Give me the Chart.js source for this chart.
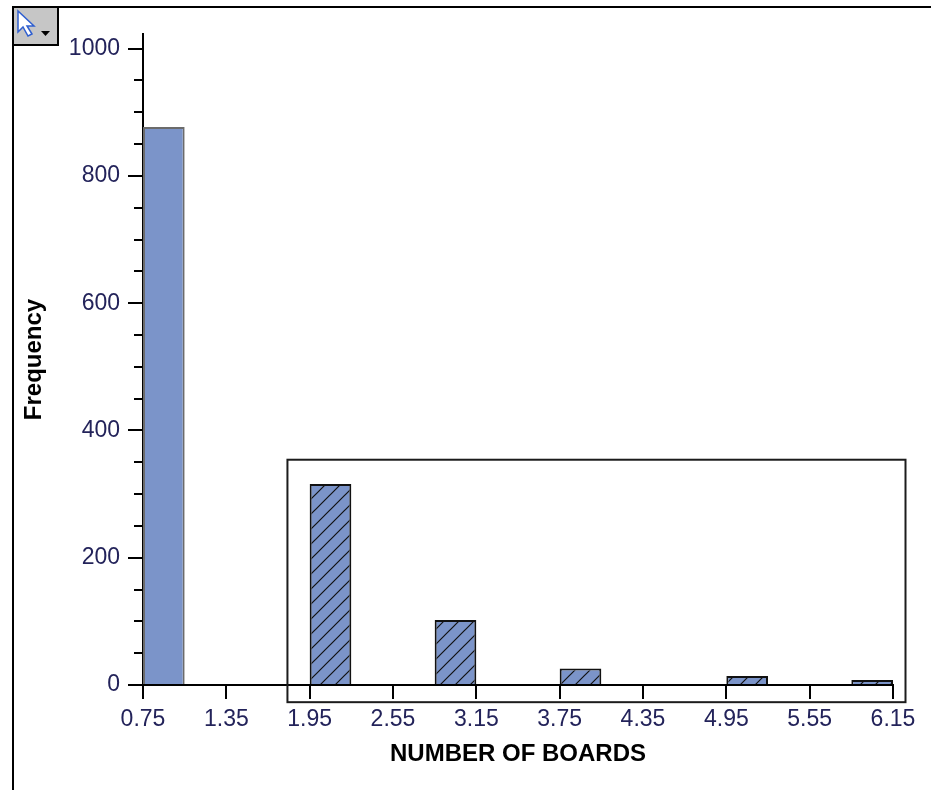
<!DOCTYPE html>
<html>
<head>
<meta charset="utf-8">
<title>Number of Boards</title>
<script src="https://cdn.jsdelivr.net/npm/chart.js@4.4.1/dist/chart.umd.min.js"></script>
<style>
  html, body { margin: 0; padding: 0; background: #fff; }
  #wrap { position: relative; width: 931px; height: 790px; }
</style>
</head>
<body>
<div id="wrap"><canvas id="histChart" width="931" height="790"></canvas></div>
<script>
'use strict';

// histogram bins (centre of each 0.3 wide bar) and their counts
const binCenters = [0.9, 2.1, 3.0, 3.9, 5.1, 6.0];
const frequencies = [877, 316, 102, 26, 14, 8];

// axis ticks
const xTickValues = [0.75, 1.35, 1.95, 2.55, 3.15, 3.75, 4.35, 4.95, 5.55, 6.15];
const yTickValues = [0, 200, 400, 600, 800, 1000];
const yMinorStep = 50;

const BAR_FILL = '#7b94c9';
const TICK_TEXT = '#23235a';
const FONT = '"Liberation Sans", Arial, sans-serif';

// highlight frame around the hatched bins, in data units
const insetBox = { xMin: 1.79, xMax: 6.24, yMin: -27, yMax: 354 };

function makeHatch() {
    const c = document.createElement('canvas');
    c.width = 15; c.height = 15;
    const g = c.getContext('2d');
    g.fillStyle = BAR_FILL;
    g.fillRect(0, 0, 15, 15);
    g.strokeStyle = '#111';
    g.lineWidth = 1.2;
    g.beginPath();
    g.moveTo(-1, 16); g.lineTo(16, -1);
    g.moveTo(-1, 1); g.lineTo(1, -1);
    g.moveTo(14, 16); g.lineTo(16, 14);
    g.stroke();
    return g.createPattern(c, 'repeat');
}

const hatch = makeHatch();

// minor ticks on the frequency axis, the inset frame and the window chrome
const decorations = {
    id: 'decorations',
    afterDraw(chart) {
        const ctx = chart.ctx;
        const x = chart.scales.x;
        const y = chart.scales.y;
        const area = chart.chartArea;

        ctx.save();
        ctx.strokeStyle = '#000';
        ctx.lineWidth = 2;
        ctx.beginPath();
        for (let v = yMinorStep; v < yTickValues[yTickValues.length - 1]; v += yMinorStep) {
            if (yTickValues.includes(v)) continue;
            const py = Math.round(y.getPixelForValue(v));
            ctx.moveTo(area.left - 9, py);
            ctx.lineTo(area.left, py);
        }
        ctx.stroke();

        // inset frame
        const l = x.getPixelForValue(insetBox.xMin);
        const r = x.getPixelForValue(insetBox.xMax);
        const t = y.getPixelForValue(insetBox.yMax);
        const b = y.getPixelForValue(insetBox.yMin);
        ctx.strokeStyle = '#1c1c1c';
        ctx.lineWidth = 2;
        ctx.strokeRect(l, t, r - l, b - t);

        // outer window edge
        ctx.strokeStyle = '#000';
        ctx.beginPath();
        ctx.moveTo(13, 790);
        ctx.lineTo(13, 7);
        ctx.lineTo(931, 7);
        ctx.stroke();

        // selection tool button
        ctx.fillStyle = '#c6c6c6';
        ctx.fillRect(13, 7, 45, 38);
        ctx.strokeRect(13, 7, 45, 38);
        ctx.beginPath();
        ctx.moveTo(18, 11);
        ctx.lineTo(18, 32);
        ctx.lineTo(23, 27);
        ctx.lineTo(28, 36);
        ctx.lineTo(32, 34);
        ctx.lineTo(27, 26);
        ctx.lineTo(34, 26);
        ctx.closePath();
        ctx.fillStyle = '#fff';
        ctx.fill();
        ctx.strokeStyle = '#2f5fd0';
        ctx.lineWidth = 1.5;
        ctx.stroke();
        ctx.beginPath();
        ctx.moveTo(41, 31);
        ctx.lineTo(50, 31);
        ctx.lineTo(45.5, 36);
        ctx.closePath();
        ctx.fillStyle = '#000';
        ctx.fill();
        ctx.restore();
    }
};

new Chart(document.getElementById('histChart'), {
    type: 'bar',
    data: {
        datasets: [{
            label: 'Frequency',
            data: binCenters.map((c, i) => ({ x: c, y: frequencies[i] })),
            backgroundColor: frequencies.map((_, i) => i === 0 ? BAR_FILL : hatch),
            borderColor: frequencies.map((_, i) => i === 0 ? '#6b6b6b' : '#111'),
            borderWidth: 2,
            categoryPercentage: 0.5,
            barPercentage: 1
        }]
    },
    options: {
        responsive: false,
        animation: false,
        devicePixelRatio: 1,
        layout: { padding: { left: 0, top: 34, right: 38, bottom: 0 } },
        plugins: {
            legend: { display: false },
            tooltip: { enabled: false }
        },
        scales: {
            x: {
                type: 'linear',
                offset: false,
                min: xTickValues[0],
                max: xTickValues[xTickValues.length - 1],
                z: 1,
                afterBuildTicks: s => { s.ticks = xTickValues.map(v => ({ value: v })); },
                afterFit: s => { s.height = 105; },
                grid: { offset: false, drawOnChartArea: false, drawTicks: true, tickLength: 14, color: '#000', lineWidth: 2 },
                border: { display: true, color: '#000', width: 2 },
                ticks: {
                    autoSkip: false,
                    maxRotation: 0,
                    padding: 7,
                    color: TICK_TEXT,
                    font: { family: FONT, size: 23 },
                    callback: v => Number(v).toFixed(2)
                },
                title: {
                    display: true,
                    text: 'NUMBER OF BOARDS',
                    color: '#000',
                    font: { family: FONT, size: 24, weight: 'bold' },
                    padding: { top: 0, bottom: 21 }
                }
            },
            y: {
                min: 0,
                max: 1023,
                z: 1,
                afterBuildTicks: s => { s.ticks = yTickValues.map(v => ({ value: v })); },
                afterFit: s => { s.width = 143; },
                grid: { drawOnChartArea: false, drawTicks: true, tickLength: 15, color: '#000', lineWidth: 2 },
                border: { display: true, color: '#000', width: 2 },
                ticks: {
                    padding: 8,
                    color: TICK_TEXT,
                    font: { family: FONT, size: 23 },
                    callback: v => String(v)
                },
                title: {
                    display: true,
                    text: 'Frequency',
                    color: '#000',
                    font: { family: FONT, size: 24, weight: 'bold' },
                    padding: { top: 20, bottom: 0 }
                }
            }
        }
    },
    plugins: [decorations]
});
</script>
</body>
</html>
